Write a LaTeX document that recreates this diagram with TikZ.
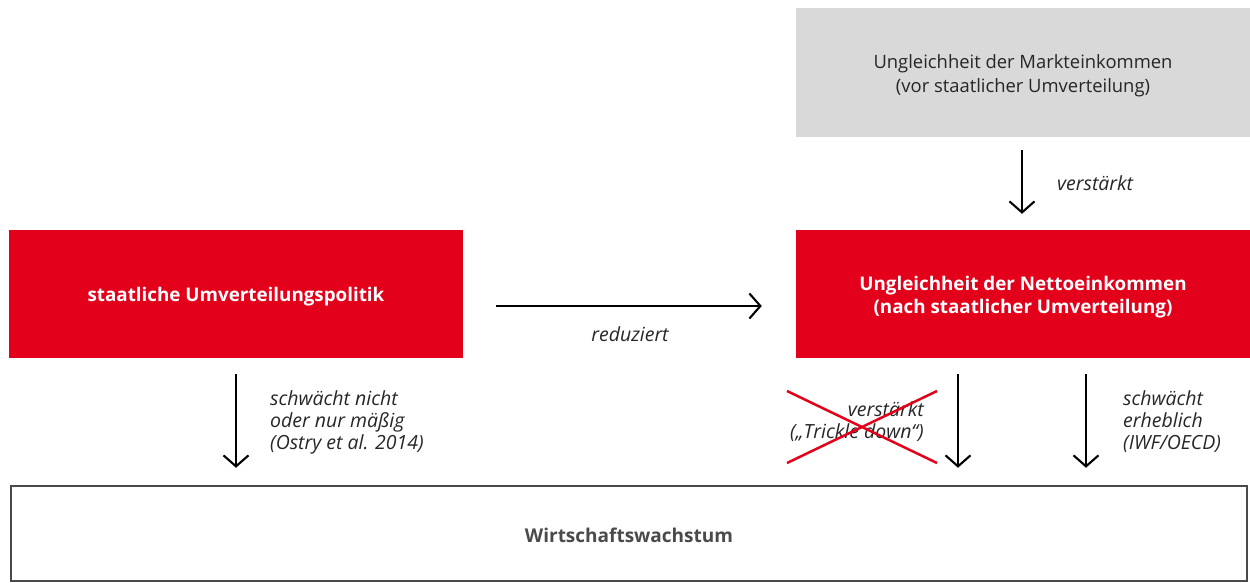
\documentclass[tikz,border=0pt]{standalone}
\usepackage{fontspec}
\setmainfont{Open Sans}
\usetikzlibrary{arrows.meta,calc}
\definecolor{dbred}{HTML}{E2001A}
\definecolor{dbgrey}{HTML}{D9D9D9}
\definecolor{dbtext}{HTML}{262626}
\definecolor{dbframe}{HTML}{4A4A4A}
\tikzset{
  redbox/.style={fill=dbred, draw=none, minimum width=454pt, minimum height=128pt, inner sep=0pt},
  redtxt/.style={text=white, font=\fontsize{18.8}{23}\selectfont\bfseries, align=center, inner sep=0pt, yshift=-3pt},
  greybox/.style={fill=dbgrey, draw=none, minimum width=454pt, minimum height=129pt, inner sep=0pt},
  greytxt/.style={text=dbtext, font=\fontsize{18.4}{24}\selectfont, align=center, inner sep=0pt, yshift=-3pt},
  framebox/.style={draw=dbframe, line width=2.5pt, fill=white, minimum width=1236pt, minimum height=95pt, inner sep=0pt},
  frametxt/.style={text=dbframe, font=\fontsize{19}{23}\selectfont\bfseries, inner sep=0pt, yshift=-2pt},
  conn/.style={line width=2.1pt, black, -{Straight Barb[length=11pt,width=25pt,line width=2.1pt]}},
  lbl/.style={font=\fontsize{19.5}{22}\selectfont\itshape, text=dbtext, inner sep=0pt},
  cross/.style={dbred, line width=2.5pt}
}
\begin{document}
\begin{tikzpicture}[x=1pt,y=-1pt]
\useasboundingbox (0,0) rectangle (1250,583);
\node[greybox, label={[greytxt]center:{Ungleichheit der Markteinkommen\\(vor staatlicher Umverteilung)}}] (grey) at (1023,72.5) {};
\node[redbox, label={[redtxt]center:{staatliche Umverteilungspolitik}}] (redL) at (236,294) {};
\node[redbox, label={[redtxt]center:{Ungleichheit der Nettoeinkommen\\(nach staatlicher Umverteilung)}}] (redR) at (1023,294) {};
\node[framebox, label={[frametxt]center:{Wirtschaftswachstum}}] (wachs) at (629,533.5) {};

% grey -> redR
\draw[conn, shorten <=13pt, shorten >=16pt] ([xshift=-1pt]grey.south) -- ([xshift=-1pt]redR.north);
\node[lbl, anchor=west] (l1) at (1057,183) {verstärkt};

% redL -> redR
\draw[conn, shorten <=33pt, shorten >=34pt] ([yshift=-12pt]redL.east) -- ([yshift=-12pt]redR.west);
\node[lbl] (l2) at (630,334) {reduziert};

% redL -> wachs
\draw[conn, shorten <=16pt, shorten >=17pt] (redL.south) -- (redL.south |- wachs.north);
\node[lbl, anchor=west, align=left] (l3) at (270,422) {schwächt nicht\\oder nur mäßig\\(Ostry et al. 2014)};

% redR -> wachs (left)
\coordinate (s1) at ([xshift=-65pt]redR.south);
\draw[conn, shorten <=16pt, shorten >=17pt] (s1) -- (s1 |- wachs.north);
\node[lbl, anchor=east, align=right] (l4) at (924,422) {verstärkt\\(„Trickle down“)};
\draw[cross] (787,391) -- (937,463);
\draw[cross] (787,463) -- (937,391);

% redR -> wachs (right)
\coordinate (s2) at ([xshift=63pt]redR.south);
\draw[conn, shorten <=16pt, shorten >=17pt] (s2) -- (s2 |- wachs.north);
\node[lbl, anchor=west, align=left] (l5) at (1123,422) {schwächt\\erheblich\\(IWF/OECD)};
\end{tikzpicture}
\end{document}
